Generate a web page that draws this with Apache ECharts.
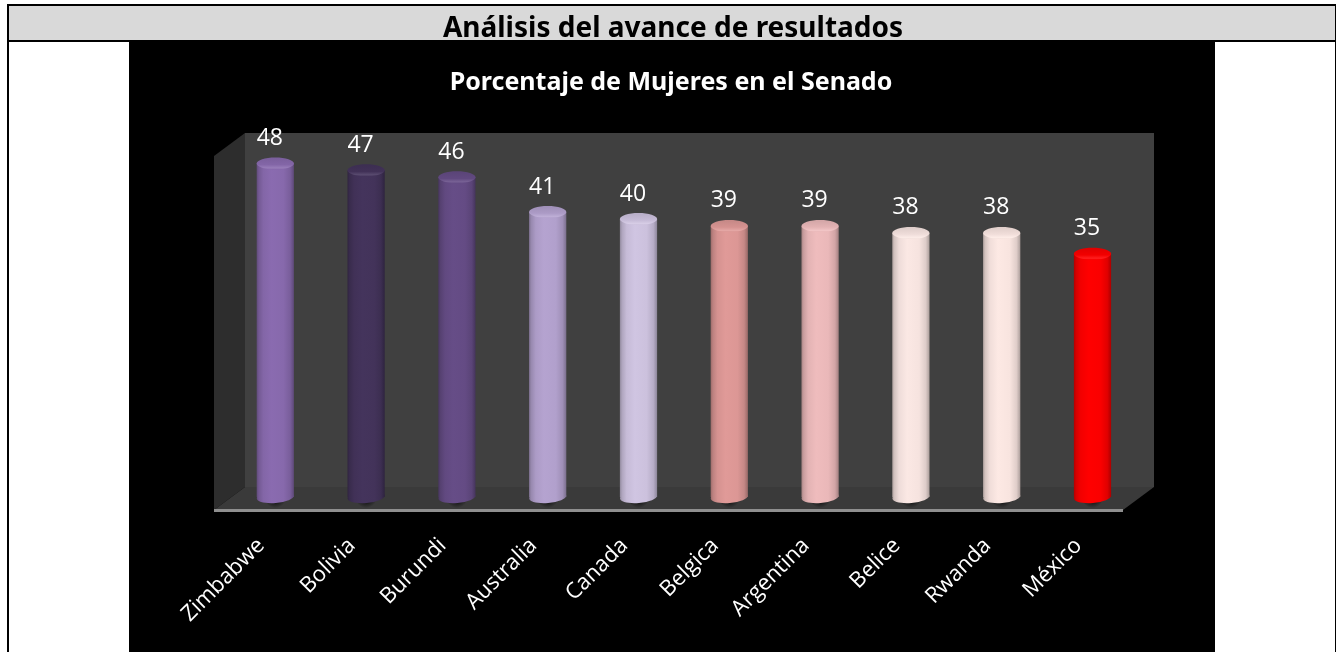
<!DOCTYPE html>
<html><head><meta charset="utf-8">
<style>html,body{margin:0;padding:0;background:#fff}#c{width:1336px;height:652px}</style>
<script src="https://cdn.jsdelivr.net/npm/echarts@6/dist/echarts.min.js"></script>
</head><body><div id="c"></div>
<script>
const categories = ['Zimbabwe','Bolivia','Burundi','Australia','Canada','Belgica','Argentina','Belice','Rwanda','México'];
const values = [48,47,46,41,40,39,39,38,38,35];
const barColors = ['#8a6bb0','#44345c','#664d87','#b5a3d0','#d0c5e2','#e09a98','#efbcbd','#fbe8e4','#fde9e4','#ff0000'];
const pageTitle = 'Análisis del avance de resultados';
const chartTitle = 'Porcentaje de Mujeres en el Senado';

const chart = echarts.init(document.getElementById('c'), null, {renderer:'canvas'});
// positive k mixes toward black, negative k mixes toward white
function shade(c, k){
  const ch = [1,3,5].map(p => parseInt(c.substr(p,2),16));
  const out = ch.map(v => Math.round(k >= 0 ? v*(1-k) : v + (255-v)*(-k)));
  return 'rgb(' + out.join(',') + ')';
}
function horiz(c){
  return {type:'linear',x:0,y:0,x2:1,y2:0,colorStops:[
    {offset:0,color:shade(c,0.3)},{offset:0.06,color:shade(c,0.16)},{offset:0.18,color:shade(c,0.05)},
    {offset:0.4,color:c},{offset:0.72,color:shade(c,0.02)},{offset:0.9,color:shade(c,0.12)},{offset:1,color:shade(c,0.32)}]};
}
function capFill(c){
  return {type:'linear',x:0,y:0,x2:0,y2:1,colorStops:[
    {offset:0,color:shade(c,0.12)},{offset:0.6,color:shade(c,0.05)},{offset:0.88,color:shade(c,-0.12)},{offset:1,color:shade(c,0.03)}]};
}
function renderCyl(params, api){
  const i = api.value(0), v = api.value(1);
  const top = api.coord([i,v]), base = api.coord([i,0]);
  const bw = api.size([1,0])[0]*0.41, rx = bw/2, ry = 6;
  const c = barColors[i], x = base[0];
  return {type:'group',children:[
    {type:'ellipse',shape:{cx:x,cy:base[1],rx:rx*2.05,ry:11},silent:true,
      style:{fill:{type:'radial',x:0.5,y:0.5,r:0.5,colorStops:[{offset:0,color:'rgba(0,0,0,0.6)'},{offset:0.55,color:'rgba(0,0,0,0.5)'},{offset:1,color:'rgba(0,0,0,0)'}]}}},
    {type:'ellipse',shape:{cx:x,cy:base[1],rx:rx,ry:ry},rotation:0.08,originX:x,originY:base[1],style:{fill:horiz(c)}},
    {type:'rect',shape:{x:x-rx,y:top[1],width:bw,height:base[1]-top[1]},style:{fill:horiz(c)}},
    {type:'ellipse',shape:{cx:x,cy:top[1],rx:rx,ry:ry},style:{fill:capFill(c)}},
    {type:'text',x:x-5.5,y:top[1]-ry-19,style:{text:String(v),fill:'#fff',font:'23px "Open Sans"',align:'center',verticalAlign:'middle'}}
  ]};
}
chart.setOption({
  animation:false,
  backgroundColor:'#fff',
  grid:{left:229.9,width:908,top:149.5,height:347.5,containLabel:false},
  xAxis:{type:'category',data:categories,axisLine:{show:false},axisTick:{show:false},
    axisLabel:{rotate:45,margin:31,color:'#fff',fontFamily:'Open Sans',fontSize:22,interval:0,padding:[0,20,0,0]}},
  yAxis:{type:'value',min:0,max:50,show:false,splitLine:{show:false}},
  graphic:{elements:[
    {type:'rect',z:0,shape:{x:7,y:4,width:1329,height:2},style:{fill:'#000'}},
    {type:'rect',z:0,shape:{x:7,y:4,width:2,height:648},style:{fill:'#000'}},
    {type:'rect',z:0,shape:{x:1335,y:4,width:1,height:648},style:{fill:'#000'}},
    {type:'rect',z:0,shape:{x:9,y:6,width:1326,height:34},style:{fill:'#d9d9d9'}},
    {type:'rect',z:0,shape:{x:9,y:40,width:1326,height:2},style:{fill:'#000'}},
    {type:'rect',z:0,shape:{x:129,y:40,width:1086,height:612},style:{fill:'#000'}},
    {type:'polygon',z:1,shape:{points:[[214,156],[245,133],[245,487],[214,510]]},style:{fill:'#2d2d2d'}},
    {type:'rect',z:1,shape:{x:245,y:133,width:909,height:354},style:{fill:'#404040'}},
    {type:'polygon',z:1,shape:{points:[[214,510],[245,487],[1154,487],[1123,510]]},style:{fill:'#3a3a3a'}},
    {type:'rect',z:1,shape:{x:214,y:509,width:909,height:3},style:{fill:'#8f8f8f'}},
    {type:'text',z:1,x:673,y:29,style:{text:pageTitle,fill:'#000',font:'bold 28px "Noto Sans"',align:'center',verticalAlign:'middle'}},
    {type:'text',z:1,x:671,y:83,style:{text:chartTitle,fill:'#fff',font:'bold 25px "Noto Sans"',align:'center',verticalAlign:'middle'}}
  ]},
  series:[{type:'custom',z:5,coordinateSystem:'cartesian2d',renderItem:renderCyl,clip:false,
    encode:{x:0,y:1},data:values.map((v,i)=>[i,v])}]
});
</script></body></html>
